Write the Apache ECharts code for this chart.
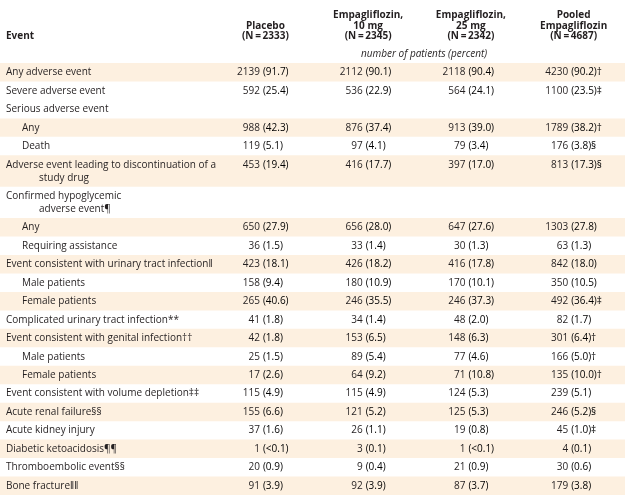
<!DOCTYPE html>
<html><head><meta charset="utf-8">
<script src="https://cdn.jsdelivr.net/npm/echarts@6/dist/echarts.min.js"></script>
<style>html,body{margin:0;padding:0;background:#fff}#c{width:625px;height:496px}</style>
</head><body><div id="c"></div>
<script>
// ---- data ----
const columnHeaders = ['Placebo\n(N\u2009=\u20092333)', 'Empagliflozin,\n10 mg\n(N\u2009=\u20092345)', 'Empagliflozin,\n25 mg\n(N\u2009=\u20092342)', 'Pooled\nEmpagliflozin\n(N\u2009=\u20094687)'];
const events = ['Any adverse event', 'Severe adverse event', 'Serious adverse event', 'Any', 'Death',
  'Adverse event leading to discontinuation of a\nstudy drug', 'Confirmed hypoglycemic\nadverse event\u00b6', 'Any', 'Requiring assistance',
  'Event consistent with urinary tract infection\u2016', 'Male patients', 'Female patients', 'Complicated urinary tract infection**',
  'Event consistent with genital infection\u2020\u2020', 'Male patients', 'Female patients', 'Event consistent with volume depletion\u2021\u2021',
  'Acute renal failure\u00a7\u00a7', 'Acute kidney injury', 'Diabetic ketoacidosis\u00b6\u00b6', 'Thromboembolic event\u00a7\u00a7', 'Bone fracture\u2016\u2016'];
const indentLevel = [0,0,0,1,1,0,0,1,1,0,1,1,0,0,1,1,0,0,0,0,0,0];
const shadedRow = [1,0,0,1,0,1,0,1,0,1,0,1,0,1,0,1,0,1,0,1,0,1];
const placeboN   = [2139, 592, null, 988, 119, 453, null, 650, 36, 423, 158, 265, 41, 42, 25, 17, 115, 155, 37, 1, 20, 91];
const placeboPct = ['91.7','25.4',null,'42.3','5.1','19.4',null,'27.9','1.5','18.1','9.4','40.6','1.8','1.8','1.5','2.6','4.9','6.6','1.6','<0.1','0.9','3.9'];
const emp10N     = [2112, 536, null, 876, 97, 416, null, 656, 33, 426, 180, 246, 34, 153, 89, 64, 115, 121, 26, 3, 9, 92];
const emp10Pct   = ['90.1','22.9',null,'37.4','4.1','17.7',null,'28.0','1.4','18.2','10.9','35.5','1.4','6.5','5.4','9.2','4.9','5.2','1.1','0.1','0.4','3.9'];
const emp25N     = [2118, 564, null, 913, 79, 397, null, 647, 30, 416, 170, 246, 48, 148, 77, 71, 124, 125, 19, 1, 21, 87];
const emp25Pct   = ['90.4','24.1',null,'39.0','3.4','17.0',null,'27.6','1.3','17.8','10.1','37.3','2.0','6.3','4.6','10.8','5.3','5.3','0.8','<0.1','0.9','3.7'];
const pooledN    = [4230, 1100, null, 1789, 176, 813, null, 1303, 63, 842, 350, 492, 82, 301, 166, 135, 239, 246, 45, 4, 30, 179];
const pooledPct  = ['90.2','23.5',null,'38.2','3.8','17.3',null,'27.8','1.3','18.0','10.5','36.4','1.7','6.4','5.0','10.0','5.1','5.2','1.0','0.1','0.6','3.8'];
const pooledNote = ['\u2020','\u2021','','\u2020','\u00a7','\u00a7','','','','','','\u2021','','\u2020','\u2020','\u2020','','\u00a7','\u2021','','',''];

// ---- layout helpers ----
const FONT = '"Open Sans", sans-serif';
const TXT = '#231f20';
const counts = [placeboN, emp10N, emp25N, pooledN];
const pcts = [placeboPct, emp10Pct, emp25Pct, pooledPct];
const notes = [null, null, null, pooledNote];
const rowUnits = events.map(e => e.split('\n').length === 1 ? 1 : 1.7);
const rowStart = [];
let acc = 0;
rowUnits.forEach(u => { rowStart.push(acc); acc += u; });
const total = acc;

const rowData = events.map((e, i) => [0, rowStart[i], i]);
const cellData = [];
counts.forEach((arr, c) => arr.forEach((v, r) => { if (v !== null) cellData.push([c, rowStart[r], r]); }));

const chart = echarts.init(document.getElementById('c'), null, {renderer: 'canvas'});
chart.setOption({
  animation: false,
  backgroundColor: '#ffffff',
  grid: {left: 214, top: 63, width: 416, height: 432},
  xAxis: {
    type: 'category', position: 'top', data: columnHeaders,
    axisLine: {show: false}, axisTick: {show: false}, splitLine: {show: false},
    axisLabel: {margin: 21, fontFamily: FONT, fontWeight: 'bold', fontSize: 10, lineHeight: 10.7, color: TXT, align: 'center', interval: 0}
  },
  yAxis: {type: 'value', inverse: true, min: 0, max: total, show: false},
  graphic: [
    {type: 'text', left: 6, top: 31, style: {text: 'Event', font: 'bold 10px ' + FONT, fill: TXT}},
    {type: 'text', left: 361, top: 49, style: {text: 'number of patients (percent)', font: 'italic 10px ' + FONT, fill: TXT}}
  ],
  series: [
    {
      type: 'custom', z: 1, clip: false, data: rowData, encode: {x: 0, y: 1},
      renderItem: function (params, api) {
        const r = api.value(2);
        const top = api.coord([0, rowStart[r]])[1];
        const bot = api.coord([0, rowStart[r] + rowUnits[r]])[1];
        const children = [];
        if (shadedRow[r]) children.push({type: 'rect', shape: {x: 0, y: top, width: api.getWidth(), height: bot - top}, style: {fill: '#fdf0e0'}});
        const lines = events[r].split('\n');
        lines.forEach((ln, k) => {
          children.push({type: 'text', style: {text: ln, x: k === 0 ? 6 + indentLevel[r] * 16 : 39, y: top + 9.4 + k * 13, font: '10px ' + FONT, fill: TXT, verticalAlign: 'middle', align: 'left'}});
        });
        return {type: 'group', children};
      }
    },
    {
      type: 'custom', z: 2, clip: false, data: cellData, encode: {x: 0, y: 1},
      renderItem: function (params, api) {
        const c = api.value(0), r = api.value(2);
        const p = api.coord([c, rowStart[r]]);
        const ax = p[0] - 4;
        const y = p[1] + 9.4;
        const note = notes[c] ? notes[c][r] : '';
        return {type: 'group', children: [
          {type: 'text', style: {text: String(counts[c][r]), x: ax - 1.5, y, font: '10px ' + FONT, fill: TXT, align: 'right', verticalAlign: 'middle'}},
          {type: 'text', style: {text: '{p|(' + pcts[c][r] + ')}' + (note ? '{n|' + note + '}' : ''), x: ax + 1.5, y, align: 'left', verticalAlign: 'middle',
            rich: {p: {fontFamily: FONT, fontSize: 10, color: TXT}, n: {fontFamily: FONT, fontSize: 10, color: '#7a6f66'}}}}
        ]};
      }
    }
  ]
});
</script>
</body></html>
